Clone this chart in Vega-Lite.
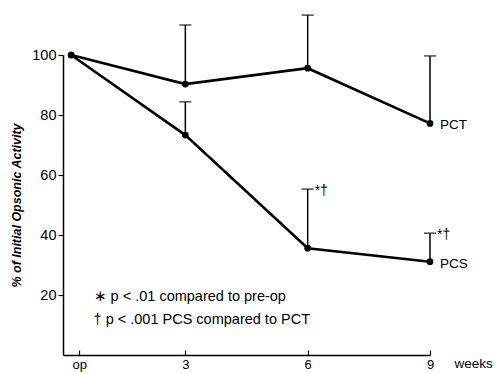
{
  "$schema": "https://vega.github.io/schema/vega-lite/v6.json",
  "width": 367,
  "height": 300,
  "autosize": {"type": "none"},
  "padding": {"left": 63, "top": 55, "right": 72, "bottom": 18},
  "background": "white",
  "config": {
    "view": {"stroke": null},
    "font": "Liberation Sans",
    "axis": {"grid": false, "domainColor": "black", "tickColor": "black", "labelColor": "black", "titleColor": "black", "domainWidth": 1.5, "tickWidth": 1.2}
  },
  "datasets": {
    "series": [
      {"group": "PCT", "week": 0.2, "value": 100, "upper": 100, "note": ""},
      {"group": "PCT", "week": 3, "value": 90.3, "upper": 110, "note": ""},
      {"group": "PCT", "week": 6, "value": 95.6, "upper": 113.3, "note": ""},
      {"group": "PCT", "week": 9, "value": 77.2, "upper": 99.7, "note": ""},
      {"group": "PCS", "week": 0.2, "value": 100, "upper": 100, "note": ""},
      {"group": "PCS", "week": 3, "value": 73.3, "upper": 84.4, "note": ""},
      {"group": "PCS", "week": 6, "value": 35.6, "upper": 55.3, "note": "*†"},
      {"group": "PCS", "week": 9, "value": 31.1, "upper": 40.6, "note": "*†"}
    ],
    "foot": [
      {"week": 0.75, "value": 19.3, "label": "∗ p < .01 compared to pre-op"},
      {"week": 0.75, "value": 11.7, "label": "† p < .001 PCS compared to PCT"}
    ],
    "unit": [{"week": 9.6, "value": -3, "label": "weeks"}]
  },
  "layer": [
    {
      "data": {"name": "series"},
      "transform": [{"filter": "datum.upper > datum.value"}],
      "mark": {"type": "rule", "color": "black", "strokeWidth": 1.5},
      "encoding": {
        "x": {"field": "week", "type": "quantitative", "scale": {"domain": [0, 9], "nice": false},
          "axis": {"values": [0.4, 3, 6, 9], "labelExpr": "datum.value < 1 ? 'op' : datum.label", "title": null, "tickSize": -5, "labelPadding": 8, "labelFontSize": 13, "labelFlush": false}},
        "y": {"field": "value", "type": "quantitative", "scale": {"domain": [0, 100], "nice": false},
          "axis": {"values": [20, 40, 60, 80, 100], "title": "% of Initial Opsonic Activity", "titleFontStyle": "italic", "titleFontWeight": "bold", "titleFontSize": 12.5, "titlePadding": 8, "labelFontSize": 14.5, "tickSize": 5, "labelPadding": 2}},
        "y2": {"field": "upper"}
      }
    },
    {
      "data": {"name": "series"},
      "transform": [{"filter": "datum.upper > datum.value"}],
      "mark": {"type": "tick", "orient": "horizontal", "color": "black", "size": 12, "thickness": 1.5},
      "encoding": {
        "x": {"field": "week", "type": "quantitative"},
        "y": {"field": "upper", "type": "quantitative"}
      }
    },
    {
      "data": {"name": "series"},
      "mark": {"type": "line", "color": "black", "strokeWidth": 2.6},
      "encoding": {
        "x": {"field": "week", "type": "quantitative"},
        "y": {"field": "value", "type": "quantitative"},
        "detail": {"field": "group"}
      }
    },
    {
      "data": {"name": "series"},
      "mark": {"type": "point", "filled": true, "color": "black", "opacity": 1, "size": 45},
      "encoding": {
        "x": {"field": "week", "type": "quantitative"},
        "y": {"field": "value", "type": "quantitative"}
      }
    },
    {
      "data": {"name": "series"},
      "transform": [{"filter": "datum.week == 9"}],
      "mark": {"type": "text", "align": "left", "baseline": "middle", "dx": 10, "dy": 2, "fontSize": 13.5, "color": "black"},
      "encoding": {
        "x": {"field": "week", "type": "quantitative"},
        "y": {"field": "value", "type": "quantitative"},
        "text": {"field": "group"}
      }
    },
    {
      "data": {"name": "series"},
      "transform": [{"filter": "datum.note != ''"}],
      "mark": {"type": "text", "align": "left", "baseline": "middle", "dx": 7, "dy": 2, "fontSize": 14, "color": "black"},
      "encoding": {
        "x": {"field": "week", "type": "quantitative"},
        "y": {"field": "upper", "type": "quantitative"},
        "text": {"field": "note"}
      }
    },
    {
      "data": {"name": "foot"},
      "mark": {"type": "text", "align": "left", "baseline": "middle", "fontSize": 14.5, "color": "black"},
      "encoding": {
        "x": {"field": "week", "type": "quantitative"},
        "y": {"field": "value", "type": "quantitative"},
        "text": {"field": "label"}
      }
    },
    {
      "data": {"name": "unit"},
      "mark": {"type": "text", "align": "left", "baseline": "middle", "fontSize": 13.5, "color": "black"},
      "encoding": {
        "x": {"field": "week", "type": "quantitative"},
        "y": {"field": "value", "type": "quantitative"},
        "text": {"field": "label"}
      }
    }
  ]
}
